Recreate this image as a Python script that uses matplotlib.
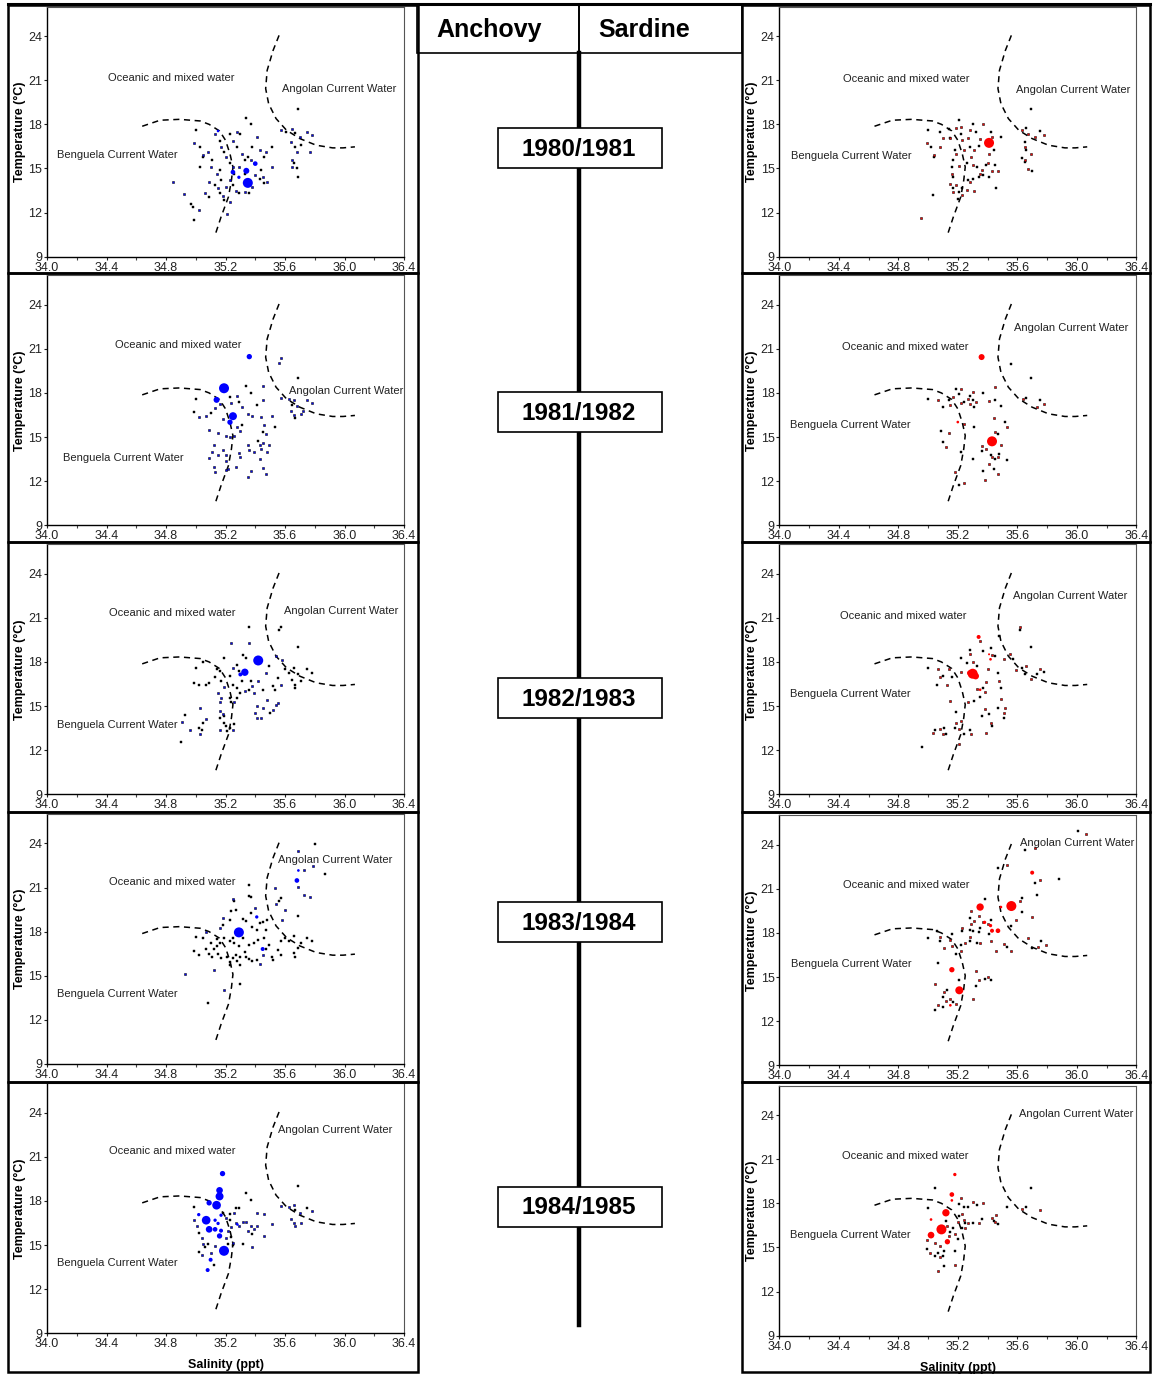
import matplotlib.pyplot as plt
from matplotlib.patches import Rectangle
from matplotlib.lines import Line2D

plt.rcParams['font.family'] = ['Liberation Sans', 'DejaVu Sans']

W, H = 1156, 1375

seasons = ['1980/1981', '1981/1982', '1982/1983', '1983/1984', '1984/1985']
species = ['Anchovy', 'Sardine']

sal_ticks = [34.0, 34.4, 34.8, 35.2, 35.6, 36.0, 36.4]
tmp_ticks = [9, 12, 15, 18, 21, 24]

# water mass boundaries (salinity, temperature)
benguela_sal = [34.64, 34.76, 34.89, 35.03, 35.09, 35.16, 35.20, 35.23, 35.25, 35.24, 35.22, 35.17, 35.13]
benguela_tmp = [17.87, 18.28, 18.34, 18.23, 18.00, 17.55, 16.92, 16.00, 15.10, 14.20, 13.07, 11.70, 10.47]
angolan_sal = [35.56, 35.52, 35.48, 35.47, 35.49, 35.54, 35.61, 35.70, 35.81, 35.92, 35.99, 36.07]
angolan_tmp = [24.05, 23.03, 21.67, 20.43, 19.40, 18.39, 17.60, 17.03, 16.58, 16.40, 16.40, 16.47]

# egg stations: (salinity, temperature, density class); 0 = no eggs
anchovy_8081 = [
    (35.35, 14.02, 15), (35.34, 14.84, 9), (35.40, 15.33, 7), (35.25, 14.75, 7), (35.29, 14.40, 5), (35.15, 17.55, 4),
    (35.00, 17.6, 0), (34.99, 16.7, 1), (35.03, 16.45, 0), (35.05, 15.9, 1), (35.05, 15.8, 0), (35.08, 16.1, 1),
    (35.11, 15.55, 0), (35.10, 15.1, 1), (35.09, 14.1, 1), (35.13, 13.85, 0), (35.15, 13.65, 1), (35.16, 13.3, 0),
    (35.18, 13.1, 1), (35.19, 12.85, 0), (35.23, 12.7, 1), (35.21, 11.9, 1), (35.03, 15.1, 0), (35.06, 13.3, 1),
    (35.09, 13.05, 0), (35.13, 17.35, 1), (35.16, 16.9, 0), (35.17, 16.45, 1), (35.19, 16.1, 0), (35.20, 15.8, 1),
    (35.23, 15.35, 0), (35.25, 15.1, 1), (35.26, 14.65, 0), (35.23, 14.2, 1), (35.25, 13.85, 0), (35.27, 13.5, 1),
    (35.29, 13.3, 0), (35.33, 13.4, 1), (35.36, 13.3, 0), (35.38, 13.75, 1), (35.35, 15.8, 0), (35.31, 16.0, 1),
    (35.28, 16.45, 0), (35.25, 16.9, 1), (35.23, 17.35, 0), (35.28, 17.45, 1), (35.30, 17.35, 0), (35.34, 18.45, 0),
    (35.37, 18.0, 0), (35.41, 17.15, 1), (35.38, 16.45, 0), (35.43, 16.25, 1), (35.46, 15.8, 0), (35.47, 16.15, 1),
    (35.51, 16.45, 0), (35.51, 15.1, 1), (35.44, 14.9, 0), (35.45, 14.45, 1), (35.46, 14.0, 0), (35.48, 14.1, 1),
    (35.43, 14.3, 0), (35.40, 14.55, 1), (35.33, 14.65, 0), (35.29, 15.1, 1), (35.33, 15.55, 0), (35.37, 15.55, 1),
    (35.14, 14.65, 1), (35.17, 14.2, 0), (35.20, 13.75, 1), (35.16, 14.9, 0),
    (35.57, 17.6, 1), (35.61, 17.5, 0), (35.65, 17.65, 1), (35.67, 17.4, 0), (35.70, 17.15, 1), (35.75, 17.5, 1),
    (35.78, 17.3, 1), (35.71, 16.6, 0), (35.64, 16.8, 1), (35.67, 16.45, 0), (35.68, 16.1, 1), (35.77, 16.1, 1),
    (35.65, 15.55, 1), (35.66, 15.35, 0), (35.65, 15.1, 1), (35.68, 15.0, 0), (35.69, 14.45, 0), (35.69, 19.05, 0),
    (34.85, 14.1, 1), (34.92, 13.25, 1), (34.97, 12.6, 0), (34.98, 12.4, 0), (34.99, 11.5, 0), (35.02, 12.2, 1),
]

anchovy_8182 = [
    (35.19, 18.32, 15), (35.36, 20.47, 8), (35.14, 17.53, 9), (35.25, 16.42, 12), (35.23, 16.01, 8),
    (35.00, 17.6, 0), (34.99, 16.7, 0), (35.02, 16.35, 1), (35.07, 16.45, 1), (35.10, 16.65, 0), (35.13, 17.0, 1),
    (35.16, 17.25, 1), (35.18, 16.25, 1), (35.23, 17.7, 0), (35.24, 17.35, 1), (35.28, 17.8, 1), (35.29, 17.4, 0),
    (35.31, 17.05, 1), (35.34, 18.45, 0), (35.37, 18.0, 0), (35.41, 17.2, 0), (35.45, 18.45, 1), (35.45, 17.55, 1),
    (35.35, 16.6, 1), (35.38, 16.4, 1), (35.44, 16.35, 1), (35.51, 16.45, 1), (35.53, 15.7, 0), (35.46, 15.8, 1),
    (35.45, 15.35, 0), (35.47, 15.2, 1), (35.28, 15.7, 1), (35.31, 15.8, 0), (35.30, 15.4, 1), (35.26, 15.1, 1),
    (35.20, 15.05, 1), (35.23, 15.0, 1), (35.15, 15.3, 1), (35.09, 15.45, 1), (35.12, 14.45, 1), (35.11, 14.0, 1),
    (35.09, 13.55, 1), (35.12, 12.95, 1), (35.13, 12.6, 1), (35.15, 13.8, 1), (35.18, 14.1, 1), (35.20, 13.75, 1),
    (35.20, 13.4, 1), (35.22, 12.85, 1), (35.20, 12.75, 1), (35.27, 12.95, 1), (35.29, 13.95, 1), (35.30, 13.65, 1),
    (35.35, 14.45, 1), (35.36, 14.1, 1), (35.35, 12.3, 1), (35.37, 12.7, 1), (35.39, 14.0, 1), (35.42, 14.75, 0),
    (35.43, 14.45, 1), (35.44, 14.2, 1), (35.45, 14.6, 1), (35.43, 13.5, 1), (35.45, 12.9, 1), (35.47, 12.5, 1),
    (35.48, 14.0, 1), (35.49, 14.45, 1),
    (35.56, 20.05, 1), (35.57, 20.35, 1), (35.69, 19.0, 0), (35.57, 17.65, 1), (35.63, 17.6, 1), (35.66, 17.5, 1),
    (35.65, 17.2, 0), (35.68, 17.1, 1), (35.75, 17.5, 1), (35.78, 17.3, 1), (35.64, 16.8, 1), (35.66, 16.5, 1),
    (35.67, 16.3, 0), (35.71, 16.6, 1), (35.72, 16.75, 1),
]

anchovy_8283 = [
    (35.42, 18.1, 15), (35.33, 17.3, 11), (35.30, 17.15, 6),
    (34.99, 16.6, 0), (35.02, 16.4, 0), (35.00, 17.6, 0), (35.05, 18.0, 0), (35.07, 16.4, 0), (35.09, 16.55, 0),
    (35.13, 17.0, 0), (35.14, 17.5, 0), (35.16, 17.4, 0), (35.17, 16.7, 0), (35.19, 16.3, 1), (35.15, 15.9, 1),
    (35.17, 15.55, 1), (35.16, 15.3, 1), (35.19, 18.25, 0), (35.24, 19.3, 1), (35.23, 17.05, 0), (35.25, 17.6, 1),
    (35.28, 17.8, 0), (35.29, 17.4, 0), (35.32, 18.5, 0), (35.34, 18.25, 0), (35.36, 19.3, 1), (35.36, 20.4, 0),
    (35.37, 16.7, 0), (35.38, 16.35, 1), (35.39, 15.9, 1), (35.36, 16.1, 0), (35.33, 16.05, 1), (35.30, 15.9, 0),
    (35.28, 15.55, 0), (35.26, 15.3, 1), (35.23, 15.55, 0), (35.24, 15.3, 0), (35.25, 16.45, 0), (35.28, 16.25, 0),
    (35.31, 16.7, 0), (35.42, 16.7, 1), (35.45, 16.1, 0), (35.47, 17.25, 1), (35.49, 17.75, 0), (35.52, 16.35, 0),
    (35.53, 16.1, 0), (35.55, 16.9, 0), (35.54, 18.4, 1), (35.58, 18.1, 1), (35.57, 16.4, 1), (35.56, 20.15, 0),
    (35.57, 20.35, 0), (35.69, 19.0, 0), (35.60, 17.5, 0), (35.63, 17.25, 0), (35.66, 17.6, 0), (35.65, 16.8, 0),
    (35.67, 16.45, 0), (35.67, 16.25, 0), (35.69, 17.15, 0), (35.75, 17.5, 0), (35.78, 17.25, 0), (35.71, 16.7, 0),
    (34.90, 12.55, 0), (34.91, 13.95, 1), (34.93, 14.4, 0), (34.96, 13.4, 1), (35.03, 14.9, 1), (35.02, 13.5, 0),
    (35.03, 13.1, 1), (35.04, 13.4, 0), (35.05, 13.85, 0), (35.07, 14.1, 1), (35.16, 14.65, 1), (35.16, 14.2, 0),
    (35.18, 14.45, 1), (35.19, 13.85, 0), (35.19, 14.3, 0), (35.20, 13.65, 0), (35.21, 13.3, 0), (35.23, 13.5, 0),
    (35.25, 13.35, 1), (35.26, 13.8, 0), (35.16, 13.4, 1), (35.41, 15.0, 1), (35.40, 14.55, 1), (35.41, 14.2, 1),
    (35.44, 14.2, 1), (35.45, 14.9, 1), (35.48, 15.4, 1), (35.50, 14.5, 0), (35.52, 14.75, 1), (35.54, 15.05, 1),
    (35.55, 15.2, 1),
]

anchovy_8384 = [
    (35.29, 17.95, 15), (35.68, 21.48, 7), (35.45, 16.82, 6), (35.41, 19.0, 5), (35.69, 22.16, 4),
    (35.69, 23.48, 1), (35.79, 22.45, 1), (35.73, 22.2, 1), (35.73, 20.5, 1), (35.77, 20.35, 1), (35.69, 21.05, 1),
    (35.60, 19.5, 1), (35.58, 18.8, 1), (35.54, 19.85, 1), (35.53, 20.98, 1), (35.40, 19.6, 1), (35.25, 20.2, 1),
    (35.07, 17.95, 1), (34.93, 15.1, 1), (35.12, 15.4, 1), (35.19, 14.05, 1), (35.43, 15.8, 1), (35.16, 18.25, 1),
    (35.18, 18.93, 1), (35.45, 16.43, 1),
    (35.80, 23.98, 0), (35.87, 21.9, 0), (35.36, 21.2, 0), (35.36, 20.45, 0), (35.37, 20.35, 0), (35.27, 19.5, 0),
    (35.24, 19.4, 0), (35.26, 20.1, 0), (35.32, 18.85, 0), (35.37, 19.3, 0), (35.43, 18.6, 0), (35.45, 18.65, 0),
    (35.48, 18.8, 0), (35.47, 18.1, 0), (35.41, 18.1, 0), (35.38, 18.35, 0), (35.34, 18.7, 0), (35.23, 18.8, 0),
    (35.18, 18.45, 0), (35.19, 17.6, 0), (35.23, 17.35, 0), (35.25, 17.55, 0), (35.16, 17.25, 0), (35.14, 17.0, 0),
    (35.12, 16.8, 0), (35.14, 17.5, 0), (35.10, 17.25, 0), (35.07, 16.8, 0), (35.05, 17.6, 0), (35.00, 17.65, 0),
    (34.99, 16.7, 0), (35.02, 16.4, 0), (35.09, 16.5, 0), (35.11, 16.3, 0), (35.15, 16.45, 0), (35.17, 16.2, 0),
    (35.21, 16.3, 0), (35.23, 15.95, 0), (35.25, 16.2, 0), (35.27, 16.43, 0), (35.28, 15.98, 0), (35.30, 15.75, 0),
    (35.30, 16.3, 0), (35.33, 16.65, 0), (35.34, 16.3, 0), (35.36, 16.15, 0), (35.38, 16.0, 0), (35.41, 16.1, 0),
    (35.36, 17.1, 0), (35.39, 17.2, 0), (35.42, 17.45, 0), (35.46, 17.55, 0), (35.47, 16.8, 0), (35.49, 17.1, 0),
    (35.51, 16.3, 0), (35.52, 16.1, 0), (35.55, 16.77, 0), (35.57, 16.43, 0), (35.57, 17.35, 0), (35.60, 17.55, 0),
    (35.63, 17.35, 0), (35.66, 17.7, 0), (35.66, 16.55, 0), (35.67, 16.3, 0), (35.69, 16.9, 0), (35.71, 17.2, 0),
    (35.75, 17.55, 0), (35.78, 17.35, 0), (35.69, 19.05, 0), (35.57, 20.3, 0), (35.56, 20.07, 0), (35.30, 14.45, 0),
    (35.08, 13.18, 0), (35.23, 15.75, 0), (35.26, 17.2, 0), (35.29, 17.0, 0), (35.32, 17.57, 0),
]

anchovy_8485 = [
    (35.19, 14.61, 15), (35.07, 16.69, 13), (35.14, 17.71, 13), (35.16, 18.31, 12), (35.16, 18.72, 10),
    (35.09, 16.07, 10), (35.09, 17.87, 8), (35.18, 19.86, 8), (35.16, 15.62, 8), (35.13, 16.07, 7),
    (35.17, 15.98, 6), (35.10, 14.0, 6), (35.08, 13.3, 6), (35.02, 17.07, 5), (35.13, 16.69, 5),
    (35.15, 16.47, 5), (35.17, 17.03, 5), (35.28, 16.4, 4),
    (34.99, 17.6, 0), (34.99, 16.7, 1), (35.01, 16.3, 1), (35.02, 15.8, 0), (35.04, 15.45, 1), (35.05, 15.1, 1),
    (35.06, 14.9, 0), (35.02, 14.5, 0), (35.04, 14.35, 1), (35.08, 15.05, 0), (35.10, 14.45, 1), (35.13, 14.95, 1),
    (35.12, 13.65, 0), (35.18, 17.15, 0), (35.20, 16.87, 1), (35.23, 16.7, 0), (35.24, 16.25, 1), (35.22, 15.98, 1),
    (35.20, 15.5, 1), (35.24, 15.55, 0), (35.25, 15.15, 1), (35.22, 15.1, 0), (35.25, 15.0, 0), (35.26, 17.15, 1),
    (35.27, 17.5, 0), (35.29, 17.5, 0), (35.27, 16.5, 1), (35.29, 16.28, 1), (35.32, 16.6, 1), (35.34, 16.55, 1),
    (35.35, 15.95, 1), (35.37, 16.28, 1), (35.38, 15.75, 0), (35.39, 16.1, 1), (35.41, 16.28, 1), (35.38, 14.9, 1),
    (35.32, 15.1, 0), (35.34, 18.52, 0), (35.37, 18.07, 0), (35.41, 17.16, 1), (35.46, 17.1, 1), (35.46, 15.6, 1),
    (35.51, 16.45, 1), (35.57, 17.64, 1), (35.63, 17.6, 1), (35.66, 17.7, 1), (35.67, 17.4, 0), (35.70, 17.15, 1),
    (35.75, 17.5, 0), (35.78, 17.3, 1), (35.64, 16.8, 1), (35.66, 16.5, 1), (35.67, 16.3, 1), (35.71, 16.5, 1),
    (35.69, 19.0, 0), (35.23, 17.1, 0),
]

sardine_8081 = [
    (35.41, 16.74, 15),
    (35.00, 17.6, 0), (34.99, 16.7, 1), (35.02, 16.45, 0), (35.04, 15.9, 1), (35.04, 15.8, 0), (35.08, 16.45, 1),
    (35.08, 17.45, 0), (35.10, 17.1, 1), (35.14, 17.7, 0), (35.15, 17.05, 1), (35.15, 17.1, 0), (35.19, 17.75, 1),
    (35.21, 18.3, 0), (35.22, 17.85, 1), (35.22, 17.37, 0), (35.23, 16.92, 1), (35.18, 16.25, 0), (35.19, 16.0, 1),
    (35.17, 15.55, 0), (35.21, 15.2, 1), (35.16, 15.1, 0), (35.16, 14.65, 1), (35.17, 14.45, 0), (35.15, 13.95, 1),
    (35.17, 13.7, 0), (35.19, 13.85, 1), (35.21, 13.4, 0), (35.17, 13.4, 1), (35.20, 12.9, 0), (35.23, 13.2, 1),
    (35.23, 13.65, 0), (35.26, 13.55, 1), (35.27, 14.2, 0), (35.28, 14.1, 1), (35.30, 14.3, 0), (35.31, 13.5, 1),
    (35.34, 14.4, 0), (35.35, 14.65, 1), (35.37, 14.55, 0), (35.36, 14.9, 1), (35.39, 15.25, 0), (35.40, 15.4, 1),
    (35.45, 15.25, 0), (35.47, 14.8, 1), (35.46, 13.65, 0), (35.43, 14.8, 1), (35.41, 14.45, 0), (35.41, 16.0, 1),
    (35.44, 16.25, 0), (35.31, 16.25, 1), (35.28, 16.45, 0), (35.29, 15.8, 1), (35.26, 15.35, 0), (35.30, 15.25, 1),
    (35.33, 15.1, 0), (35.28, 17.6, 1), (35.30, 18.05, 0), (35.27, 17.1, 1), (35.32, 17.45, 0), (35.35, 17.0, 1),
    (35.34, 16.5, 0), (35.37, 18.05, 1), (35.42, 17.5, 0), (35.43, 17.15, 1), (35.49, 17.15, 0), (35.24, 16.25, 1),
    (35.69, 19.05, 0), (35.63, 17.6, 1), (35.66, 17.75, 0), (35.67, 17.35, 1), (35.65, 16.8, 0), (35.65, 16.45, 1),
    (35.66, 16.25, 0), (35.69, 16.0, 1), (35.70, 14.85, 0), (35.67, 14.95, 1), (35.65, 15.45, 0), (35.65, 15.6, 1),
    (35.63, 15.7, 0), (35.72, 17.15, 1), (35.75, 17.55, 0), (35.78, 17.3, 1), (35.03, 13.2, 0), (34.95, 11.6, 1),
]

sardine_8182 = [
    (35.43, 14.71, 15), (35.36, 20.44, 9), (35.20, 16.02, 4),
    (35.00, 17.6, 0), (35.07, 17.5, 1), (35.10, 17.05, 0), (35.15, 17.15, 1), (35.14, 17.5, 0), (35.17, 17.73, 1),
    (35.19, 18.29, 0), (35.22, 18.29, 1), (35.21, 17.9, 0), (35.22, 17.3, 1), (35.24, 17.4, 0), (35.27, 17.6, 1),
    (35.28, 17.8, 0), (35.28, 17.25, 1), (35.30, 17.5, 0), (35.30, 18.05, 1), (35.31, 17.05, 0), (35.32, 17.4, 1),
    (35.37, 18.0, 0), (35.41, 17.45, 1), (35.45, 17.5, 0), (35.45, 18.4, 1), (35.49, 17.1, 0), (35.44, 16.3, 1),
    (35.52, 16.05, 0), (35.53, 15.7, 1), (35.31, 15.7, 0), (35.24, 15.9, 1), (35.09, 15.4, 0), (35.14, 15.3, 1),
    (35.10, 14.64, 0), (35.12, 14.33, 1), (35.22, 13.99, 0), (35.18, 12.63, 1), (35.21, 11.77, 0), (35.24, 11.9, 1),
    (35.30, 13.5, 0), (35.36, 14.4, 1), (35.36, 14.05, 0), (35.39, 14.21, 1), (35.42, 13.8, 0), (35.43, 13.65, 1),
    (35.45, 13.53, 0), (35.47, 13.65, 1), (35.48, 13.87, 0), (35.49, 14.43, 1), (35.47, 15.24, 0), (35.45, 15.35, 1),
    (35.53, 13.45, 0), (35.41, 13.2, 1), (35.37, 12.67, 0), (35.38, 12.05, 1), (35.44, 12.85, 0), (35.47, 12.5, 1),
    (35.56, 19.98, 0), (35.69, 19.0, 0), (35.64, 17.57, 1), (35.66, 17.65, 0), (35.73, 17.04, 1), (35.75, 17.5, 0),
    (35.78, 17.27, 1),
]

sardine_8283 = [
    (35.30, 17.2, 15), (35.34, 19.7, 6), (35.32, 17.04, 10), (35.28, 17.25, 8), (35.42, 18.18, 4),
    (35.35, 16.11, 4), (35.41, 18.52, 3),
    (35.00, 17.6, 0), (35.07, 17.5, 1), (35.10, 17.05, 0), (35.14, 17.5, 1), (35.16, 16.95, 0), (35.13, 16.4, 1),
    (35.06, 16.4, 0), (35.15, 15.35, 1), (35.19, 14.6, 0), (35.22, 13.99, 1), (35.22, 18.29, 0), (35.22, 17.3, 1),
    (35.26, 17.95, 0), (35.28, 18.52, 1), (35.28, 18.8, 0), (35.30, 18.0, 1), (35.33, 17.73, 0), (35.35, 19.4, 1),
    (35.37, 18.75, 0), (35.40, 17.5, 1), (35.42, 18.97, 0), (35.43, 18.47, 1), (35.45, 18.4, 0), (35.39, 16.66, 1),
    (35.37, 16.26, 0), (35.38, 15.94, 1), (35.35, 15.6, 0), (35.33, 16.15, 1), (35.31, 15.35, 0), (35.27, 15.25, 1),
    (35.47, 17.27, 0), (35.48, 16.7, 1), (35.49, 16.25, 0), (35.51, 18.18, 1), (35.48, 19.75, 0), (35.49, 15.45, 1),
    (35.47, 14.9, 0), (35.51, 14.55, 1), (35.51, 14.21, 0), (35.52, 14.9, 1), (35.43, 13.65, 0), (35.42, 13.87, 1),
    (35.41, 14.44, 0), (35.38, 14.78, 1), (35.36, 14.33, 0), (35.39, 13.2, 1), (35.28, 13.35, 0), (35.29, 13.08, 1),
    (35.24, 13.08, 0), (35.21, 13.42, 1), (35.18, 13.53, 0), (35.19, 13.87, 1), (35.11, 13.53, 0), (35.10, 13.08, 1),
    (35.12, 13.12, 0), (35.08, 13.42, 1), (35.05, 13.35, 0), (35.03, 13.2, 1), (35.21, 12.4, 1), (34.96, 12.24, 0),
    (35.08, 17.0, 1),
    (35.62, 20.15, 0), (35.62, 20.35, 1), (35.69, 19.0, 0), (35.55, 18.52, 1), (35.57, 18.18, 0), (35.59, 17.43, 1),
    (35.63, 17.6, 0), (35.66, 17.7, 1), (35.65, 17.15, 0), (35.69, 16.82, 1), (35.73, 17.15, 0), (35.75, 17.5, 1),
    (35.78, 17.3, 0),
]

sardine_8384 = [
    (35.56, 19.83, 15), (35.35, 19.76, 11), (35.21, 14.1, 12), (35.16, 15.5, 8), (35.70, 22.1, 6),
    (35.47, 18.15, 7), (35.43, 18.15, 6), (35.42, 18.5, 5), (35.38, 18.72, 5), (35.49, 19.76, 4), (35.15, 13.08, 4),
    (35.00, 17.64, 0), (35.08, 17.7, 1), (35.06, 18.1, 0), (35.11, 17.0, 1), (35.08, 17.45, 0), (35.16, 17.14, 1),
    (35.16, 17.95, 0), (35.15, 17.5, 1), (35.19, 16.6, 0), (35.22, 16.8, 1), (35.22, 17.2, 0), (35.23, 18.36, 1),
    (35.23, 18.15, 0), (35.25, 17.35, 1), (35.28, 17.45, 0), (35.28, 17.7, 1), (35.28, 18.18, 0), (35.29, 18.58, 1),
    (35.28, 19.0, 0), (35.29, 19.5, 1), (35.30, 18.1, 0), (35.31, 18.8, 1), (35.33, 17.35, 0), (35.34, 19.15, 1),
    (35.35, 18.36, 0), (35.37, 18.72, 1), (35.38, 20.3, 0), (35.40, 18.63, 1), (35.41, 17.95, 0), (35.42, 17.45, 1),
    (35.42, 18.9, 0), (35.46, 16.8, 1), (35.47, 22.44, 0), (35.51, 17.25, 1), (35.53, 17.03, 0), (35.56, 16.8, 1),
    (35.56, 18.5, 0), (35.59, 18.86, 1), (35.63, 19.4, 0), (35.62, 20.2, 1), (35.63, 20.4, 0), (35.53, 22.65, 1),
    (35.65, 23.62, 0), (35.72, 23.8, 1), (36.01, 24.9, 0), (36.06, 24.7, 1), (35.72, 21.43, 0), (35.75, 21.6, 1),
    (35.73, 20.55, 0), (35.70, 19.07, 1), (35.88, 21.7, 0), (35.67, 17.65, 1), (35.70, 17.0, 0), (35.74, 17.07, 1),
    (35.76, 17.45, 0), (35.79, 17.2, 1), (35.34, 18.04, 0), (35.35, 17.35, 1), (35.07, 15.98, 0), (35.05, 14.55, 1),
    (35.05, 12.75, 0), (35.07, 13.08, 1), (35.10, 13.65, 0), (35.11, 13.98, 1), (35.13, 14.1, 0), (35.15, 13.53, 1),
    (35.17, 13.3, 0), (35.19, 13.2, 1), (35.21, 14.78, 0), (35.32, 15.4, 1), (35.32, 14.4, 0), (35.34, 14.78, 1),
    (35.38, 14.89, 0), (35.40, 15.0, 1), (35.42, 14.78, 0), (35.30, 13.53, 1), (35.10, 12.98, 0), (35.12, 13.4, 1),
]

sardine_8485 = [
    (35.09, 16.23, 15), (35.12, 17.36, 11), (35.02, 15.84, 10), (35.13, 15.39, 8), (35.16, 18.6, 7),
    (35.18, 19.96, 5), (35.02, 16.9, 4), (35.16, 18.2, 4),
    (35.00, 17.65, 0), (35.05, 19.05, 0), (34.99, 15.5, 1), (34.99, 14.87, 0), (35.01, 14.6, 1), (35.05, 14.42, 0),
    (35.08, 14.37, 1), (35.10, 14.42, 0), (35.07, 13.37, 1), (35.11, 13.76, 0), (35.18, 13.83, 1), (35.18, 14.73, 0),
    (35.08, 15.1, 1), (35.07, 14.65, 0), (35.05, 15.3, 1), (35.12, 16.8, 0), (35.13, 16.47, 1), (35.15, 16.02, 0),
    (35.14, 15.8, 1), (35.17, 16.35, 0), (35.18, 15.9, 1), (35.20, 15.55, 0), (35.20, 16.73, 1), (35.21, 17.93, 0),
    (35.22, 18.38, 1), (35.24, 17.77, 0), (35.23, 17.25, 1), (35.21, 17.13, 0), (35.24, 16.9, 1), (35.25, 16.64, 0),
    (35.25, 16.35, 1), (35.23, 16.35, 0), (35.27, 16.68, 1), (35.30, 16.64, 0), (35.34, 16.64, 1), (35.36, 16.95, 0),
    (35.30, 18.11, 1), (35.33, 17.9, 0), (35.37, 18.05, 1), (35.27, 17.75, 0), (35.43, 17.02, 1), (35.44, 16.8, 0),
    (35.46, 17.18, 1), (35.47, 16.6, 0), (35.45, 16.72, 1), (35.53, 17.75, 0), (35.63, 17.63, 1), (35.66, 17.73, 0),
    (35.69, 19.05, 0), (35.75, 17.55, 1), (35.11, 14.73, 0),
]

anchovy_years = [anchovy_8081, anchovy_8182, anchovy_8283, anchovy_8384, anchovy_8485]
sardine_years = [sardine_8081, sardine_8182, sardine_8283, sardine_8384, sardine_8485]

# text anchors (salinity, temperature) for Oceanic / Angolan / Benguela labels
left_labels = [
    [(34.41, 21.17), (35.58, 20.38), (34.07, 15.90)],
    [(34.46, 21.26), (35.63, 18.12), (34.11, 13.57)],
    [(34.42, 21.33), (35.59, 21.44), (34.07, 13.68)],
    [(34.42, 21.39), (35.55, 22.84), (34.07, 13.75)],
    [(34.42, 21.38), (35.55, 22.80), (34.07, 13.75)],
]
right_labels = [
    [(34.43, 21.10), (35.59, 20.31), (34.08, 15.86)],
    [(34.42, 21.12), (35.58, 22.41), (34.07, 15.80)],
    [(34.41, 21.12), (35.57, 22.48), (34.07, 15.80)],
    [(34.43, 21.27), (35.62, 24.09), (34.08, 15.90)],
    [(34.42, 21.24), (35.61, 24.07), (34.07, 15.87)],
]
label_text = ['Oceanic and mixed water', 'Angolan Current Water', 'Benguela Current Water']

# pixel layout
left_x0, right_x0, ax_w, ax_h = 47, 779.3, 357, 250
left_bottoms = [256.7, 525.3, 794.3, 1064.0, 1333.3]
right_bottoms = [256.7, 525.3, 794.3, 1065.3, 1335.7]
box_tops = [5, 273, 542, 812, 1082]
box_bottoms = [273, 542, 812, 1082, 1372]
year_centres = [148, 412, 698, 922, 1207]

fig = plt.figure(figsize=(W / 100, H / 100), dpi=100)


def fx(px):
    return px / W


def fy(py):
    return 1 - py / H


def draw_panel(x0, ybot, points, colour, labels, last):
    ax = fig.add_axes([fx(x0), fy(ybot), ax_w / W, ax_h / H])
    ax.set_xlim(34.0, 36.4)
    ax.set_ylim(9, 26)
    ax.set_xticks(sal_ticks)
    ax.set_xticklabels(['%.1f' % v for v in sal_ticks])
    ax.set_xticks([34.2, 34.6, 35.0, 35.4, 35.8, 36.2], minor=True)
    ax.set_yticks(tmp_ticks)
    ax.tick_params(axis='both', which='major', labelsize=9, length=2.5, width=0.8, pad=1, colors='#222222')
    ax.tick_params(axis='x', which='minor', length=2.5, width=0.8, colors='#444444')
    for side in ['left', 'bottom']:
        ax.spines[side].set_linewidth(1.0)
    for side in ['top', 'right']:
        ax.spines[side].set_linewidth(0.8)
        ax.spines[side].set_color('#555555')

    ax.plot(benguela_sal, benguela_tmp, color='black', lw=1.1, ls=(0, (4, 3)), zorder=2)
    ax.plot(angolan_sal, angolan_tmp, color='black', lw=1.1, ls=(0, (4, 3)), zorder=2)

    zero = [(s, t) for s, t, d in points if d == 0]
    few = [(s, t) for s, t, d in points if d == 1]
    big = [(s, t, d) for s, t, d in points if d > 1]
    ax.scatter([p[0] for p in zero], [p[1] for p in zero], s=3.5, marker='s',
               c='black', edgecolors='black', linewidths=0.3, zorder=3)
    ax.scatter([p[0] for p in few], [p[1] for p in few], s=3.5, marker='s',
               c=colour, edgecolors='#111111', linewidths=0.4, zorder=3)
    ax.scatter([p[0] for p in big], [p[1] for p in big], s=[(0.48 * p[2]) ** 2 for p in big],
               c=colour, edgecolors='none', zorder=4)

    for (s, t), txt in zip(labels, label_text):
        ax.text(s, t, txt, fontsize=8, color='#222222', ha='left', va='center', zorder=5)

    ax.set_ylabel('Temperature (°C)', fontsize=9, fontweight='bold')
    ax.yaxis.set_label_coords((26 - 47) / ax_w, 0.5)
    if last:
        ax.text(0.5, -32 / ax_h, 'Salinity (ppt)', transform=ax.transAxes, ha='center', va='center',
                fontsize=9, fontweight='bold')
    return ax


for i in range(5):
    last = i == 4
    draw_panel(left_x0, left_bottoms[i], anchovy_years[i], '#0000ff', left_labels[i], last)
    draw_panel(right_x0, right_bottoms[i], sardine_years[i], '#ff0000', right_labels[i], last)

# panel frames
for i in range(5):
    for xl, xr in [(8, 418), (742, 1150)]:
        fig.patches.append(Rectangle((fx(xl), fy(box_bottoms[i])), (xr - xl) / W,
                                     (box_bottoms[i] - box_tops[i]) / H, transform=fig.transFigure,
                                     fill=False, edgecolor='black', lw=1.8, zorder=10))

# top rule across the whole figure
fig.lines.append(Line2D([fx(8), fx(1150)], [fy(4), fy(4)], transform=fig.transFigure,
                        color='black', lw=2.2, zorder=10))

# species headers
for (xl, xr), name in zip([(417, 579), (579, 742)], species):
    fig.patches.append(Rectangle((fx(xl), fy(53)), (xr - xl) / W, 48 / H, transform=fig.transFigure,
                                 fill=False, edgecolor='black', lw=1.2, zorder=10))
    fig.text(fx(xl + 19), fy(30), name, fontsize=18, fontweight='bold', ha='left', va='center')

# time line down the middle
fig.lines.append(Line2D([fx(579), fx(579)], [fy(53), fy(1325)], transform=fig.transFigure,
                        color='black', lw=3.2, zorder=9))

for yc, season in zip(year_centres, seasons):
    fig.patches.append(Rectangle((fx(498), fy(yc + 20)), 164 / W, 40 / H, transform=fig.transFigure,
                                 facecolor='white', edgecolor='black', lw=1.2, zorder=11))
    fig.text(fx(579), fy(yc + 1), season, fontsize=17.5, fontweight='bold', ha='center', va='center', zorder=12)

fig.savefig('out.png', dpi=100)
